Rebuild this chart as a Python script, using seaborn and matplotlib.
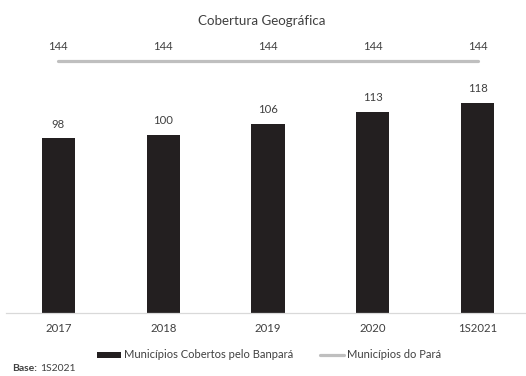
import numpy as np
import matplotlib
matplotlib.use("Agg")
import matplotlib.pyplot as plt
import seaborn as sns
from matplotlib.patches import Patch
from matplotlib.lines import Line2D

categories = ["2017", "2018", "2019", "2020", "1S2021"]
cobertos = [98, 100, 106, 113, 118]
para = [144, 144, 144, 144, 144]
legend_labels = ["Municípios Cobertos pelo Banpará", "Municípios do Pará"]
title = "Cobertura Geográfica"

sns.set_theme(style="white")
plt.rcParams['font.family'] = ['Lato', 'DejaVu Sans']

BAR_COLOR = "#231f20"
LINE_COLOR = "#bfbfbf"
TXT = "#404040"

W, H = 526, 376
fig = plt.figure(figsize=(W / 100, H / 100), dpi=100)
base_px = 313.3
top_px = 40
ax = fig.add_axes([6 / W, (H - base_px) / H, 524 / W, (base_px - top_px) / H])

sns.barplot(x=categories, y=cobertos, color=BAR_COLOR, width=0.315,
            saturation=1, linewidth=0, ax=ax)
ax.set_xlim(-0.5, 4.5)
ax.set_ylim(0, (base_px - top_px) / 1.785)

for i, v in enumerate(cobertos):
    ax.annotate(str(v), (i, v), xytext=(0, 10.2), textcoords="offset points",
                ha="center", va="center", fontsize=8.2, color=TXT)

ax2 = ax.twinx()
sns.lineplot(x=np.arange(len(categories)), y=para, ax=ax2, color=LINE_COLOR,
             linewidth=2.3, legend=False)
ax2.set_ylim(0, (base_px - top_px) / 1.752)
ax2.set_xlim(-0.5, 4.5)
for i, v in enumerate(para):
    ax2.annotate(str(v), (i, v), xytext=(0, 10.8), textcoords="offset points",
                 ha="center", va="center", fontsize=8.2, color=TXT)

for a in (ax, ax2):
    for s in ("top", "right", "left"):
        a.spines[s].set_visible(False)
    a.set_yticks([])
    a.set_ylabel("")
ax2.spines["bottom"].set_visible(False)
ax.spines["bottom"].set_color("#d9d9d9")
ax.spines["bottom"].set_linewidth(0.9)
ax.tick_params(axis="x", length=0, pad=7, labelsize=8.2, labelcolor=TXT)
ax.set_xlabel("")

fig.text(262 / W, 1 - 21 / H, title, ha="center", va="center", fontsize=9.6, color=TXT)

handles = [Patch(facecolor=BAR_COLOR, edgecolor="none"),
           Line2D([0], [0], color=LINE_COLOR, linewidth=2.3)]
fig.legend(handles, legend_labels, ncol=2, loc="center",
           bbox_to_anchor=(269 / W, 1 - 355 / H), frameon=False, fontsize=8,
           handlelength=2.16, handleheight=0.45, handletextpad=0.27,
           columnspacing=2.43, labelcolor=TXT, borderpad=0, borderaxespad=0)

fig.text(12 / W, 1 - 364 / H, "Base:", ha="left", va="top", fontsize=7.5,
         fontweight="bold", color=TXT)
fig.text(40 / W, 1 - 364 / H, "1S2021", ha="left", va="top", fontsize=7.5, color=TXT)

fig.savefig("out.png", dpi=100)
